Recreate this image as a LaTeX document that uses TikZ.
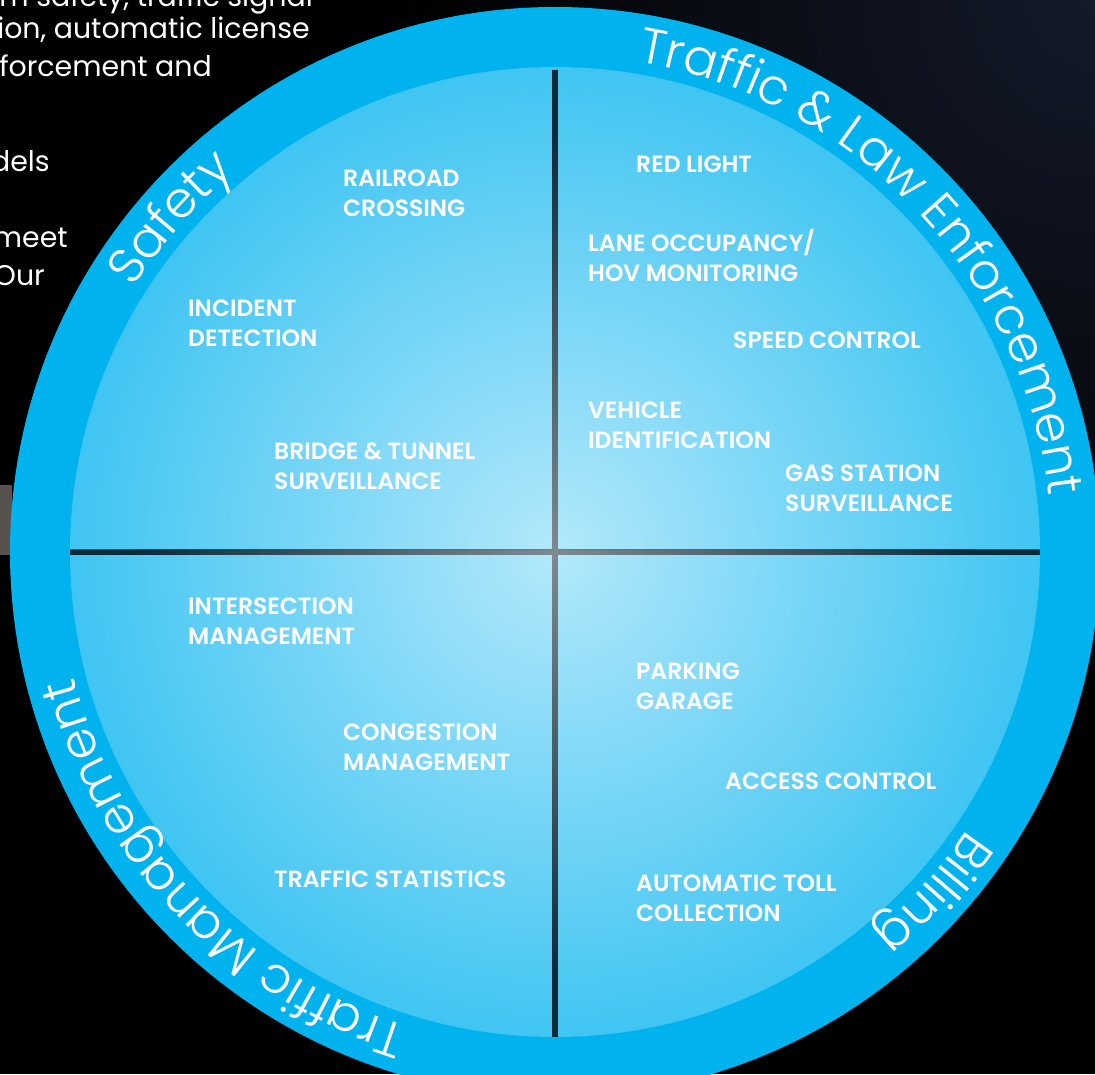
\documentclass[tikz,border=0pt]{standalone}
\usepackage{fontspec}
\setmainfont{Poppins}[BoldFont={Poppins SemiBold}]
\newfontfamily\ringfam{Poppins Light}
\usepackage{xcolor}
\usetikzlibrary{decorations.text}

\definecolor{ringblue}{HTML}{00B3EE}
\definecolor{discedge}{HTML}{40C5F2}
\definecolor{disccentre}{HTML}{B3E8FB}
\definecolor{crossdark}{HTML}{0B2A3A}
\definecolor{crossgray}{HTML}{7E8A90}
\definecolor{nightblue}{HTML}{141A2A}
\definecolor{tabgray}{HTML}{57524E}

\newcommand{\ringfont}{\ringfam\fontsize{50}{50}\selectfont\color{white}}

\tikzset{
  item/.style={anchor=west, align=left, text=white, inner sep=0pt,
    font=\bfseries\fontsize{23.5}{30}\selectfont},
  body/.style={anchor=base east, text=white, inner sep=0pt,
    font=\fontsize{28.4}{38}\selectfont},
  ringtext/.style={decorate, decoration={text along path, text align=center,
    text={|\ringfont|#1}}}
}

\begin{document}
\begin{tikzpicture}[x=1pt,y=1pt]

\useasboundingbox (-555,-522) rectangle (540,552);
\clip (-555,-522) rectangle (540,552);

% Fond
\fill[black] (-555,-522) rectangle (540,552);
\shade[inner color=nightblue, outer color=black] (540,552) circle (700);
\fill[tabgray] (-555,67) rectangle (-543,-3);

% Texte coupe
\node[body] (l1) at (-242,545) {om safety, traffic signal};
\node[body] (l2) at (-245,513) {ion, automatic license};
\node[body] (l3) at (-343,475) {forcement and};
\node[body] (l4) at (-505,380) {dels};
\node[body] (l5) at (-487,304) {meet};
\node[body] (l6) at (-510,266) {Our};

% Cercle
\fill[ringblue] (0,0) circle (545);
\shade[inner color=disccentre, outer color=discedge] (0,0) circle (485);

% Croix
\begin{scope}
\clip (-485,-2.75) rectangle (485,2.75) (-2.75,-485) rectangle (2.75,482);
\fill[crossdark] (-485,-485) rectangle (485,485);
\shade[inner color=crossgray, outer color=crossdark] (0,0) circle (420);
\end{scope}

% Safety
\node[item] (rail) at (-212,359) {RAILROAD\\CROSSING};
\node[item] (incident) at (-367,229) {INCIDENT\\DETECTION};
\node[item] (bridge) at (-281,86) {BRIDGE \& TUNNEL\\SURVEILLANCE};

% Traffic & Law Enforcement
\node[item] (redlight) at (81,388) {RED LIGHT};
\node[item] (lane) at (33,297) {LANE OCCUPANCY/\\HOV MONITORING};
\node[item] (speed) at (178,212) {SPEED CONTROL};
\node[item] (vehicle) at (33,127) {VEHICLE\\IDENTIFICATION};
\node[item] (gas) at (230,64) {GAS STATION\\SURVEILLANCE};

% Traffic Management
\node[item] (inter) at (-367,-69) {INTERSECTION\\MANAGEMENT};
\node[item] (congest) at (-212,-195) {CONGESTION\\MANAGEMENT};
\node[item] (stats) at (-281,-327) {TRAFFIC STATISTICS};

% Billing
\node[item] (parking) at (81,-134) {PARKING\\GARAGE};
\node[item] (access) at (170,-229) {ACCESS CONTROL};
\node[item] (toll) at (81,-346) {AUTOMATIC TOLL\\COLLECTION};

% Titres de l'anneau
\path[ringtext={Safety}] (160:497) arc[start angle=160, end angle=118, radius=497];
\path[ringtext={Traffic {\&} Law Enforcement}] (88:497) arc[start angle=88, end angle=-1, radius=497];
\path[ringtext={Billing}] (-22:497) arc[start angle=-22, end angle=-62, radius=497];
\path[ringtext={Traffic Management}] (258:497) arc[start angle=258, end angle=189.4, radius=497];

\end{tikzpicture}
\end{document}
